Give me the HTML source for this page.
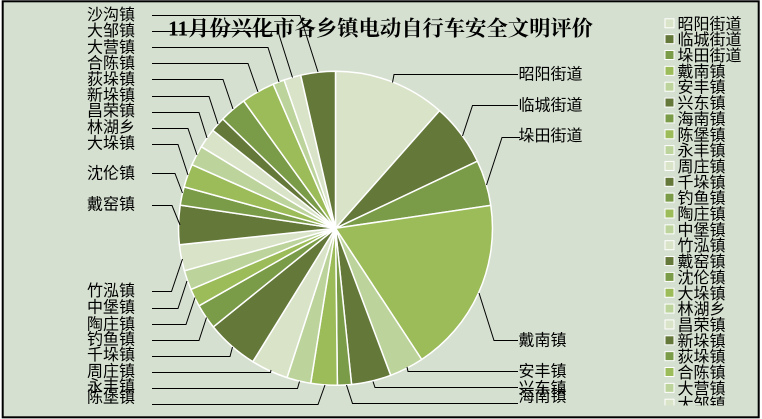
<!DOCTYPE html>
<html><head><meta charset="utf-8"><style>
html,body{margin:0;padding:0;background:#fff;}
svg{display:block;}
.t{font-family:"Liberation Sans","Noto Sans CJK SC",sans-serif;font-size:16px;fill:#000;}
.ld polyline{fill:none;stroke:#000;stroke-width:1;}
</style></head><body>
<svg width="762" height="419" viewBox="0 0 762 419" xmlns="http://www.w3.org/2000/svg">
<defs><clipPath id="lg"><rect x="600" y="0" width="160" height="405.5"/></clipPath></defs>
<rect x="2.7" y="1.3" width="756" height="416" fill="#d5e0d0" stroke="#000" stroke-width="2"/>

<text x="168" y="35.5" textLength="425" lengthAdjust="spacingAndGlyphs" style="font-family:'Liberation Serif','Noto Serif CJK SC',serif;font-size:21px;font-weight:bold;fill:#000;">11月份兴化市各乡镇电动自行车安全文明评价</text>

<g stroke="#fff" stroke-width="1.5" stroke-linejoin="round">
<path d="M335.5,228.3 L335.5,71.3 A157,157 0 0 1 439.5,110.7 Z" fill="#d9e3c8"/>
<path d="M335.5,228.3 L439.5,110.7 A157,157 0 0 1 477.4,161.2 Z" fill="#647839"/>
<path d="M335.5,228.3 L477.4,161.2 A157,157 0 0 1 490.8,205.4 Z" fill="#7a9b47"/>
<path d="M335.5,228.3 L490.8,205.4 A157,157 0 0 1 421.7,359.5 Z" fill="#9cbb59"/>
<path d="M335.5,228.3 L421.7,359.5 A157,157 0 0 1 390.7,375.3 Z" fill="#bcd49c"/>
<path d="M335.5,228.3 L390.7,375.3 A157,157 0 0 1 351.6,384.5 Z" fill="#647839"/>
<path d="M335.5,228.3 L351.6,384.5 A157,157 0 0 1 337.4,385.3 Z" fill="#7a9b47"/>
<path d="M335.5,228.3 L337.4,385.3 A157,157 0 0 1 310.7,383.3 Z" fill="#9cbb59"/>
<path d="M335.5,228.3 L310.7,383.3 A157,157 0 0 1 287.0,377.6 Z" fill="#bcd49c"/>
<path d="M335.5,228.3 L287.0,377.6 A157,157 0 0 1 252.8,361.7 Z" fill="#d9e3c8"/>
<path d="M335.5,228.3 L252.8,361.7 A157,157 0 0 1 213.3,326.9 Z" fill="#647839"/>
<path d="M335.5,228.3 L213.3,326.9 A157,157 0 0 1 199.0,305.8 Z" fill="#7a9b47"/>
<path d="M335.5,228.3 L199.0,305.8 A157,157 0 0 1 190.9,289.4 Z" fill="#9cbb59"/>
<path d="M335.5,228.3 L190.9,289.4 A157,157 0 0 1 184.4,270.8 Z" fill="#bcd49c"/>
<path d="M335.5,228.3 L184.4,270.8 A157,157 0 0 1 179.4,244.7 Z" fill="#d9e3c8"/>
<path d="M335.5,228.3 L179.4,244.7 A157,157 0 0 1 180.2,205.1 Z" fill="#647839"/>
<path d="M335.5,228.3 L180.2,205.1 A157,157 0 0 1 184.1,186.9 Z" fill="#7a9b47"/>
<path d="M335.5,228.3 L184.1,186.9 A157,157 0 0 1 192.0,164.7 Z" fill="#9cbb59"/>
<path d="M335.5,228.3 L192.0,164.7 A157,157 0 0 1 201.3,146.7 Z" fill="#bcd49c"/>
<path d="M335.5,228.3 L201.3,146.7 A157,157 0 0 1 212.8,130.3 Z" fill="#d9e3c8"/>
<path d="M335.5,228.3 L212.8,130.3 A157,157 0 0 1 222.8,119.0 Z" fill="#647839"/>
<path d="M335.5,228.3 L222.8,119.0 A157,157 0 0 1 243.7,101.0 Z" fill="#7a9b47"/>
<path d="M335.5,228.3 L243.7,101.0 A157,157 0 0 1 273.2,84.2 Z" fill="#9cbb59"/>
<path d="M335.5,228.3 L273.2,84.2 A157,157 0 0 1 284.1,80.0 Z" fill="#bcd49c"/>
<path d="M335.5,228.3 L284.1,80.0 A157,157 0 0 1 300.7,75.2 Z" fill="#d9e3c8"/>
<path d="M335.5,228.3 L300.7,75.2 A157,157 0 0 1 335.5,71.3 Z" fill="#647839"/>
</g>

<g class="ld">
<polyline points="152,15.5 300,15.5 318,72"/>
<polyline points="152,31.5 278,31.5 292.5,77.5"/>
<polyline points="152,47.5 268,47.5 279,82"/>
<polyline points="152,63.5 248,63.5 258,92"/>
<polyline points="152,79.5 223,79.5 233,109"/>
<polyline points="152,96.5 209,96.5 218,124"/>
<polyline points="152,112.5 199,112.5 207,138"/>
<polyline points="152,128.5 188,128.5 197,155"/>
<polyline points="152,144.5 178,144.5 188,175"/>
<polyline points="152,173.5 175,173.5 182.5,193"/>
<polyline points="152,205.5 172,205.5 180,225"/>
<polyline points="152,291.5 171.5,291.5 182.5,259"/>
<polyline points="152,308.5 178,308.5 187,281"/>
<polyline points="152,324.5 186,324.5 195,297.5"/>
<polyline points="152,340.5 199,340.5 206.5,317.5"/>
<polyline points="152,356.5 230,356.5 232.5,347"/>
<polyline points="152,372.5 270.5,372.5 271,370"/>
<polyline points="152,388.5 297.5,388.5 299.5,381.5"/>
<polyline points="152,404.5 318,404.5 325,385"/>
<polyline points="518,74.5 394,74.5 392.5,82.5"/>
<polyline points="518,105.5 472.5,105.5 462.5,136"/>
<polyline points="520,137.5 502,137.5 486.5,185"/>
<polyline points="518,340.5 494,340.5 479,293"/>
<polyline points="518,371.5 408,371.5 407,367"/>
<polyline points="518,387.5 375,387.5 373,381.5"/>
<polyline points="518,403.5 352.5,403.5 346.5,385"/>
</g>

<g class="t" text-anchor="end">
<text x="135" y="20">沙沟镇</text>
<text x="135" y="36">大邹镇</text>
<text x="135" y="52.7">大营镇</text>
<text x="135" y="68.7">合陈镇</text>
<text x="135" y="84.3">荻垛镇</text>
<text x="135" y="100.3">新垛镇</text>
<text x="135" y="116">昌荣镇</text>
<text x="135" y="132.7">林湖乡</text>
<text x="135" y="148.7">大垛镇</text>
<text x="135" y="178.7">沈伦镇</text>
<text x="135" y="209.3">戴窑镇</text>
<text x="135" y="296">竹泓镇</text>
<text x="135" y="312.7">中堡镇</text>
<text x="135" y="329.3">陶庄镇</text>
<text x="135" y="344.3">钓鱼镇</text>
<text x="135" y="360">千垛镇</text>
<text x="135" y="376.7">周庄镇</text>
<text x="135" y="391.7">永丰镇</text>
<text x="135" y="402.7">陈堡镇</text>
</g>

<g class="t">
<text x="518.5" y="79.3">昭阳街道</text>
<text x="518.5" y="110.3">临城街道</text>
<text x="518.5" y="141">垛田街道</text>
<text x="518.5" y="345.3">戴南镇</text>
<text x="518.5" y="376.3">安丰镇</text>
<text x="518.5" y="393.5">兴东镇</text>
<text x="518.5" y="401.7">海南镇</text>
</g>

<g clip-path="url(#lg)">
<g stroke="#fff" stroke-width="1">
<rect x="665" y="18.8" width="9" height="9" fill="#d9e3c8"/>
<rect x="665" y="34.65" width="9" height="9" fill="#647839"/>
<rect x="665" y="50.5" width="9" height="9" fill="#7a9b47"/>
<rect x="665" y="66.35" width="9" height="9" fill="#9cbb59"/>
<rect x="665" y="82.2" width="9" height="9" fill="#bcd49c"/>
<rect x="665" y="98.05" width="9" height="9" fill="#647839"/>
<rect x="665" y="113.9" width="9" height="9" fill="#7a9b47"/>
<rect x="665" y="129.75" width="9" height="9" fill="#9cbb59"/>
<rect x="665" y="145.6" width="9" height="9" fill="#bcd49c"/>
<rect x="665" y="161.45" width="9" height="9" fill="#d9e3c8"/>
<rect x="665" y="177.3" width="9" height="9" fill="#647839"/>
<rect x="665" y="193.15" width="9" height="9" fill="#7a9b47"/>
<rect x="665" y="209" width="9" height="9" fill="#9cbb59"/>
<rect x="665" y="224.85" width="9" height="9" fill="#bcd49c"/>
<rect x="665" y="240.7" width="9" height="9" fill="#d9e3c8"/>
<rect x="665" y="256.55" width="9" height="9" fill="#647839"/>
<rect x="665" y="272.4" width="9" height="9" fill="#7a9b47"/>
<rect x="665" y="288.25" width="9" height="9" fill="#9cbb59"/>
<rect x="665" y="304.1" width="9" height="9" fill="#bcd49c"/>
<rect x="665" y="319.95" width="9" height="9" fill="#d9e3c8"/>
<rect x="665" y="335.8" width="9" height="9" fill="#647839"/>
<rect x="665" y="351.65" width="9" height="9" fill="#7a9b47"/>
<rect x="665" y="367.5" width="9" height="9" fill="#9cbb59"/>
<rect x="665" y="383.35" width="9" height="9" fill="#bcd49c"/>
<rect x="665" y="399.2" width="9" height="9" fill="#d9e3c8"/>
<rect x="665" y="415.05" width="9" height="9" fill="#647839"/>
</g>
<g class="t">
<text x="677.5" y="29.3">昭阳街道</text>
<text x="677.5" y="45.15">临城街道</text>
<text x="677.5" y="61">垛田街道</text>
<text x="677.5" y="76.85">戴南镇</text>
<text x="677.5" y="92.7">安丰镇</text>
<text x="677.5" y="108.55">兴东镇</text>
<text x="677.5" y="124.4">海南镇</text>
<text x="677.5" y="140.25">陈堡镇</text>
<text x="677.5" y="156.1">永丰镇</text>
<text x="677.5" y="171.95">周庄镇</text>
<text x="677.5" y="187.8">千垛镇</text>
<text x="677.5" y="203.65">钓鱼镇</text>
<text x="677.5" y="219.5">陶庄镇</text>
<text x="677.5" y="235.35">中堡镇</text>
<text x="677.5" y="251.2">竹泓镇</text>
<text x="677.5" y="267.05">戴窑镇</text>
<text x="677.5" y="282.9">沈伦镇</text>
<text x="677.5" y="298.75">大垛镇</text>
<text x="677.5" y="314.6">林湖乡</text>
<text x="677.5" y="330.45">昌荣镇</text>
<text x="677.5" y="346.3">新垛镇</text>
<text x="677.5" y="362.15">荻垛镇</text>
<text x="677.5" y="378">合陈镇</text>
<text x="677.5" y="393.85">大营镇</text>
<text x="677.5" y="409.7">大邹镇</text>
<text x="677.5" y="425.55">沙沟镇</text>
</g>
</g>
</svg>
</body></html>
